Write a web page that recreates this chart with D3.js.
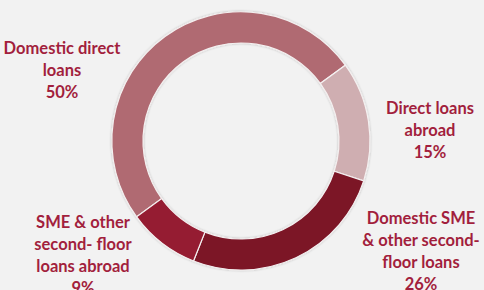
<!DOCTYPE html>
<html>
<head>
<meta charset="utf-8">
<script src="https://cdn.jsdelivr.net/npm/d3@7"></script>
<style>
  html, body { margin: 0; padding: 0; background: #f2f2f2; }
  svg { display: block; }
</style>
</head>
<body>
<svg id="chart"></svg>
<script>
const categories = ['Domestic direct loans', 'Direct loans abroad', 'Domestic SME & other second-floor loans', 'SME & other second- floor loans abroad'];
const shares = [50, 15, 26, 9];
const sliceColors = ['#b06a72', '#cfaeb1', '#7b1427', '#951a30'];
// label lines as they wrap in the picture
const labelLines = [
  ['Domestic direct', 'loans'],
  ['Direct loans', 'abroad'],
  ['Domestic SME', '& other second-', 'floor loans'],
  ['SME & other', 'second- floor', 'loans abroad']
];
const labelAnchors = [[62, 54], [430, 114], [421, 224], [83, 228]];

const width = 484;
const height = 290;
const cx = 241;
const cy = 141;
const outerR = 129;
const innerR = 98;

const svg = d3.select('#chart')
  .attr('width', width)
  .attr('height', height);

const defs = svg.append('defs');
const shadow = defs.append('filter').attr('id', 'soft').attr('x', '-20%').attr('y', '-20%').attr('width', '140%').attr('height', '140%');
shadow.append('feDropShadow')
  .attr('dx', 0).attr('dy', 0).attr('stdDeviation', 1.2)
  .attr('flood-color', '#000').attr('flood-opacity', 0.25);

const data = categories.map((c, i) => ({ name: c, value: shares[i], color: sliceColors[i] }));

const startAngle = -126 * Math.PI / 180;
const pie = d3.pie()
  .value(d => d.value)
  .sort(null)
  .startAngle(startAngle)
  .endAngle(startAngle + 2 * Math.PI);

const arc = d3.arc().innerRadius(innerR).outerRadius(outerR);

const g = svg.append('g').attr('transform', `translate(${cx}, ${cy})`);

g.append('g')
  .attr('filter', 'url(#soft)')
  .selectAll('path')
  .data(pie(data))
  .enter().append('path')
    .attr('d', arc)
    .attr('fill', d => d.data.color)
    .attr('stroke', '#f4f0f0')
    .attr('stroke-width', 1.2);

const labels = svg.append('g')
  .attr('font-family', 'Lato, "Open Sans", sans-serif')
  .attr('font-weight', 'bold')
  .attr('font-size', 16.5)
  .attr('fill', '#a21f3d')
  .attr('text-anchor', 'middle');

data.forEach((d, i) => {
  const lines = labelLines[i].concat([`${d.value}%`]);
  const t = labels.append('text')
    .attr('x', labelAnchors[i][0])
    .attr('y', labelAnchors[i][1]);
  lines.forEach((line, j) => {
    t.append('tspan')
      .attr('x', labelAnchors[i][0])
      .attr('dy', j === 0 ? 0 : 22)
      .text(line);
  });
});
</script>
</body>
</html>
